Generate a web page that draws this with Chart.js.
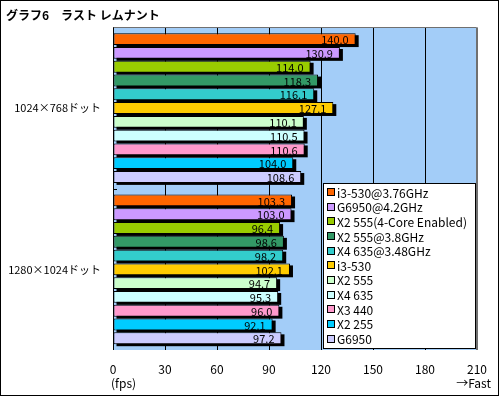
<!DOCTYPE html>
<html>
<head>
<meta charset="utf-8">
<script src="https://cdn.jsdelivr.net/npm/chart.js@4"></script>
<style>
  body { margin: 0; background: #fff; }
  #wrap { width: 500px; height: 397px; position: relative; }
</style>
</head>
<body>
<div id="wrap"><canvas id="myChart"></canvas></div>
<script>
// Chart data
const titleText = 'グラフ6　ラスト レムナント';
const resolutions = ['1024×768ドット', '1280×1024ドット'];
const cpuNames = [
    'i3-530@3.76GHz', 'G6950@4.2GHz', 'X2 555(4-Core Enabled)', 'X2 555@3.8GHz',
    'X4 635@3.48GHz', 'i3-530', 'X2 555', 'X4 635', 'X3 440', 'X2 255', 'G6950'
];
const fps1024 = [140.0, 130.9, 114.0, 118.3, 116.1, 127.1, 110.1, 110.5, 110.6, 104.0, 108.6];
const fps1280 = [103.3, 103.0, 96.4, 98.6, 98.2, 102.1, 94.7, 95.3, 96.0, 92.1, 97.2];
const barColors = [
    '#ff6600', '#cc99ff', '#99cc00', '#339966', '#33cccc', '#ffcc00',
    '#ccffcc', '#ccffff', '#ff99cc', '#00ccff', '#ccccff'
];
const xTicks = [0, 30, 60, 90, 120, 150, 180, 210];

const FONT = '"Noto Sans CJK JP", "DejaVu Sans", sans-serif';

// plot background, outer frame and extra axis texts
const framePlugin = {
    id: 'frame',
    beforeDraw(chart) {
        const { ctx, chartArea: a } = chart;
        ctx.save();
        ctx.fillStyle = '#a3cdf8';
        ctx.fillRect(a.left, a.top, a.right - a.left, a.bottom - a.top);
        ctx.restore();
    },
    afterDraw(chart) {
        const { ctx, chartArea: a } = chart;
        const x = chart.scales.x;
        ctx.save();
        // plot border (top / right gray)
        ctx.strokeStyle = '#707070';
        ctx.lineWidth = 1;
        ctx.beginPath();
        ctx.moveTo(a.left, Math.round(a.top) + 0.5);
        ctx.lineTo(Math.round(a.right) - 0.5, Math.round(a.top) + 0.5);
        ctx.lineTo(Math.round(a.right) - 0.5, a.bottom);
        ctx.stroke();
        // left axis line + separator tick
        ctx.strokeStyle = '#000';
        ctx.beginPath();
        ctx.moveTo(Math.round(a.left) + 0.5, a.top);
        ctx.lineTo(Math.round(a.left) + 0.5, a.bottom);
        const midY = Math.round((a.top + a.bottom) / 2) + 0.5;
        ctx.moveTo(a.left, midY);
        ctx.lineTo(a.left + 4, midY);
        ctx.stroke();
        // outer frame
        ctx.strokeRect(0.5, 0.5, 498, 395);
        // axis notes
        ctx.fillStyle = '#000';
        ctx.font = '12px ' + FONT;
        ctx.textBaseline = 'middle';
        ctx.textAlign = 'left';
        ctx.fillText('(fps)', x.getPixelForValue(0) - 2, 383);
        ctx.textAlign = 'right';
        ctx.fillText('→Fast', x.getPixelForValue(210) + 14, 383);
        ctx.restore();
    }
};

// black drop shadow under the bars, drawn before the bars themselves
const shadowPlugin = {
    id: 'barShadow',
    beforeDatasetsDraw(chart) {
        const ctx = chart.ctx;
        ctx.save();
        ctx.fillStyle = '#000';
        chart.data.datasets.forEach((ds, i) => {
            chart.getDatasetMeta(i).data.forEach(bar => {
                const p = bar.getProps(['x', 'y', 'base', 'height'], true);
                ctx.fillRect(p.base + 3, p.y - p.height / 2 + 2, p.x - p.base, p.height);
            });
        });
        ctx.restore();
    }
};

// value labels inside the bar ends + legend box inside the plot
const labelPlugin = {
    id: 'valueLabels',
    afterDatasetsDraw(chart) {
        const { ctx, chartArea: a } = chart;
        ctx.save();
        ctx.fillStyle = '#000';
        ctx.font = '11px ' + FONT;
        ctx.textAlign = 'right';
        ctx.textBaseline = 'middle';
        chart.data.datasets.forEach((ds, i) => {
            chart.getDatasetMeta(i).data.forEach((bar, j) => {
                ctx.fillText(ds.data[j].toFixed(1), bar.x - 7, bar.y + 1);
            });
        });

        // legend
        const bx = 323.5, by = 183.5, bw = 152, bh = 165;
        ctx.fillStyle = '#fff';
        ctx.fillRect(bx, by, bw, bh);
        ctx.strokeStyle = '#000';
        ctx.lineWidth = 1;
        ctx.strokeRect(bx, by, bw, bh);
        ctx.font = '12px ' + FONT;
        ctx.textAlign = 'left';
        cpuNames.forEach((name, i) => {
            const cy = 192 + i * 14.65;
            ctx.fillStyle = barColors[i];
            ctx.fillRect(327.5, Math.round(cy - 4) + 0.5, 7, 7);
            ctx.strokeRect(327.5, Math.round(cy - 4) + 0.5, 7, 7);
            ctx.fillStyle = '#000';
            ctx.fillText(name, 337, cy + 1);
        });
        ctx.restore();
    }
};

const ctx = document.getElementById('myChart').getContext('2d');
const myChart = new Chart(ctx, {
    type: 'bar',
    data: {
        labels: resolutions,
        datasets: cpuNames.map((name, i) => ({
            label: name,
            data: [fps1024[i], fps1280[i]],
            backgroundColor: barColors[i],
            borderColor: '#000',
            borderWidth: 1,
            borderSkipped: false,
            barPercentage: 0.86,
            categoryPercentage: 0.94
        }))
    },
    options: {
        indexAxis: 'y',
        responsive: true,
        maintainAspectRatio: false,
        animation: false,
        layout: { padding: { left: 6, right: 23, top: 0, bottom: 0 } },
        plugins: {
            legend: { display: false },
            tooltip: { enabled: false },
            title: {
                display: true,
                text: titleText,
                align: 'start',
                color: '#000',
                font: { family: FONT, size: 12, weight: 'bold' },
                padding: { top: 8, bottom: 5 }
            }
        },
        scales: {
            x: {
                min: 0,
                max: 210,
                afterFit(scale) { scale.height = 47; },
                afterBuildTicks(scale) { scale.ticks = xTicks.map(v => ({ value: v })); },
                ticks: {
                    color: '#000',
                    padding: 12,
                    font: { family: FONT, size: 12 }
                },
                grid: {
                    drawTicks: false,
                    color: ctx => ctx.tick && ctx.tick.value === 210 ? '#707070' : '#000'
                },
                border: { display: false }
            },
            y: {
                afterFit(scale) { scale.width = 107; },
                ticks: {
                    color: '#000',
                    padding: 12,
                    font: { family: FONT, size: 11 }
                },
                grid: { display: false, drawTicks: false },
                border: { display: false }
            }
        }
    },
    plugins: [framePlugin, shadowPlugin, labelPlugin]
});
</script>
</body>
</html>
